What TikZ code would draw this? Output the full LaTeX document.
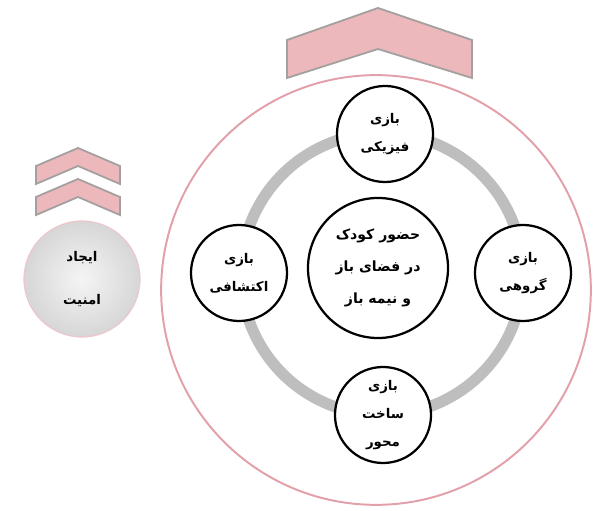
\documentclass[tikz,border=0pt]{standalone}
\usepackage{fontspec}
\newfontfamily\arabicfont[Script=Arabic]{DejaVu Sans}
\TeXXeTstate=1
\newcommand{\fa}[1]{{\arabicfont\bfseries\beginR #1\endR}}
\definecolor{rosepink}{RGB}{236,184,188}
\definecolor{roseline}{RGB}{226,160,170}
\definecolor{ringgray}{RGB}{190,190,190}
\definecolor{chevedge}{RGB}{165,160,160}

\begin{document}
\begin{tikzpicture}[x=0.025cm, y=-0.025cm,
        play/.style={circle, draw=black, line width=1.6pt, fill=white, minimum size=2.4cm,
                     inner sep=0pt, align=center, font=\fontsize{9.5}{20}\selectfont},
        core/.style={circle, draw=black, line width=1.6pt, fill=white, minimum size=3.5cm,
                     inner sep=0pt, align=center, font=\fontsize{10}{23}\selectfont},
        safe/.style={circle, draw=roseline!60, line width=0.8pt, shading=radial,
                     inner color=gray!8, outer color=gray!32, minimum size=2.9cm,
                     inner sep=0pt, align=center, font=\fontsize{9.5}{30}\selectfont},
        chev/.style={draw=chevedge, line width=1.3pt, fill=rosepink, line join=miter}
    ]
        \useasboundingbox (0,0) rectangle (593,511);

        % outer frame and ring
        \coordinate (hub) at (382,274);
        \draw[roseline, line width=1.4pt] (376,290) circle (5.37cm);
        \draw[ringgray, line width=8pt] (hub) circle (3.52cm);

        \node[core] (child) at (378,268) {\fa{حضور کودک}\\\fa{در فضای باز}\\\fa{و نیمه باز}};
        \node[play] (physical) at (385,134) {\fa{بازی}\\\fa{فیزیکی}};
        \node[play] (explore)  at (239,273) {\fa{بازی}\\\fa{اکتشافی}};
        \node[play] (group)    at (523,273) {\fa{بازی}\\\fa{گروهی}};
        \node[play] (build)    at (383,415) {\fa{بازی}\\\fa{ساخت}\\\fa{محور}};

        % chevrons
        \draw[chev] (287,40) -- (378,8) -- (472,40) -- (472,78) -- (378,49) -- (287,78) -- cycle;
        \draw[chev] (36,166) -- (78,148) -- (120,166) -- (120,184) -- (78,166) -- (36,184) -- cycle;
        \draw[chev] (36,197) -- (78,179) -- (120,197) -- (120,215) -- (78,197) -- (36,215) -- cycle;

        \node[safe] (security) at (82,279) {\fa{ایجاد}\\\fa{امنیت}};
    \end{tikzpicture}
\end{document}
